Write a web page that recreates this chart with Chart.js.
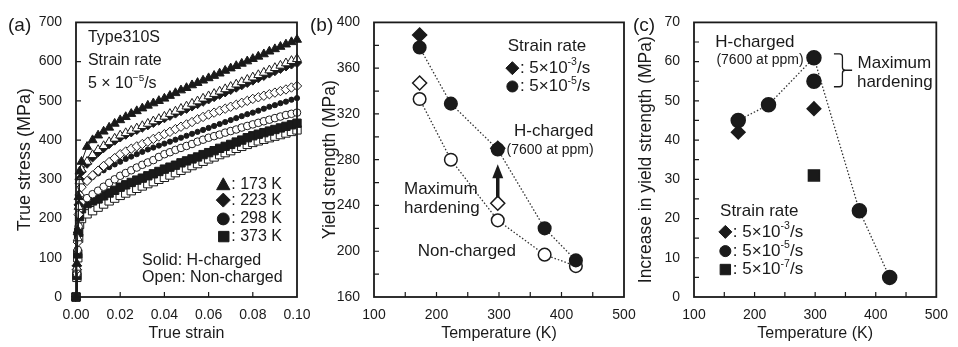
<!DOCTYPE html>
<html>
<head>
  <title>Type310S - hydrogen hardening</title>
  <script src="https://cdn.jsdelivr.net/npm/chart.js"></script>
  <style>
    body {
      margin: 0;
      background-color: #fff;
    }

    .figure {
      position: relative;
      width: 958px;
      height: 347px;
    }

    .figure canvas {
      position: absolute;
      left: 0;
      top: 0;
    }
  </style>
</head>
<body>
  <div class="figure">
    <canvas id="chartA" width="958" height="347"></canvas>
    <canvas id="chartB" width="958" height="347"></canvas>
    <canvas id="chartC" width="958" height="347"></canvas>
  </div>

  <script>
    // (a) true stress - true strain curves, strain rate 5x10^-5/s
    const strain = [0, 0.0004, 0.0008, 0.0012, 0.0016, 0.0025, 0.005, 0.0075, 0.01, 0.0125, 0.015, 0.0175, 0.02,
      0.0225, 0.025, 0.0275, 0.03, 0.0325, 0.035, 0.0375, 0.04, 0.0425, 0.045, 0.0475, 0.05, 0.0525, 0.055, 0.0575,
      0.06, 0.0625, 0.065, 0.0675, 0.07, 0.0725, 0.075, 0.0775, 0.08, 0.0825, 0.085, 0.0875, 0.09, 0.0925, 0.095,
      0.0975, 0.1];
    const stress173H = [0, 85, 170, 255, 320, 345, 383, 400, 412, 422, 432, 442, 451, 459, 467, 474, 481, 488, 494,
      500, 506, 513, 520, 527, 533, 540, 546, 552, 558, 564, 570, 577, 583, 589, 595, 601, 607, 613, 619, 626, 632,
      638, 644, 650, 656];
    const stress173N = [0, 75, 150, 230, 295, 325, 345, 362, 375, 385, 395, 404, 412, 418, 424, 430, 436, 442, 448,
      454, 460, 467, 473, 480, 486, 493, 499, 506, 512, 518, 524, 530, 536, 542, 548, 554, 560, 566, 572, 578, 584,
      590, 596, 602, 607];
    const stress223H = [0, 80, 160, 235, 300, 320, 340, 356, 369, 380, 390, 399, 407, 414, 420, 426, 432, 438, 444,
      450, 456, 462, 468, 474, 480, 486, 492, 498, 504, 510, 516, 522, 528, 534, 540, 546, 552, 558, 564, 570, 576,
      582, 588, 593, 597];
    const stress223N = [0, 70, 140, 210, 260, 280, 296, 310, 322, 334, 344, 354, 364, 371, 378, 384, 390, 396, 403,
      409, 415, 421, 428, 434, 440, 446, 453, 459, 465, 470, 475, 480, 485, 490, 495, 500, 505, 509, 513, 517, 521,
      525, 529, 534, 538];
    const stress298H = [0, 70, 140, 210, 265, 282, 296, 306, 315, 323, 331, 338, 345, 352, 358, 364, 370, 376, 381,
      386, 391, 396, 401, 406, 411, 416, 421, 426, 431, 436, 441, 446, 451, 456, 461, 466, 470, 475, 480, 485, 489,
      494, 498, 503, 507];
    const stress298N = [0, 60, 120, 180, 225, 242, 252, 262, 271, 281, 291, 300, 309, 316, 323, 330, 337, 343, 349,
      357, 364, 369, 375, 380, 385, 390, 396, 401, 406, 410, 414, 419, 423, 427, 432, 436, 440, 444, 448, 452, 456,
      460, 464, 467, 470];
    const stress373H = [0, 55, 110, 165, 205, 225, 238, 245, 250, 258, 265, 272, 280, 286, 292, 298, 303, 309, 314,
      320, 326, 331, 336, 342, 347, 352, 357, 363, 368, 373, 379, 384, 389, 395, 400, 406, 411, 415, 419, 423, 427,
      431, 435, 439, 443];
    const stress373N = [0, 50, 100, 150, 185, 200, 212, 220, 229, 237, 245, 252, 259, 265, 271, 277, 283, 289, 294,
      300, 305, 311, 317, 323, 329, 335, 340, 346, 352, 357, 363, 368, 373, 379, 384, 389, 394, 398, 402, 406, 410,
      414, 418, 422, 426];

    // (b) yield strength vs temperature
    const temps = [173, 223, 298, 373, 423];
    const yieldH5 = [378, 329, 289, 220, 192];
    const yieldN5 = [333, 280, 227, 197, 187];
    const tempsFast = [173, 298];
    const yieldH3 = [389, 290];
    const yieldN3 = [347, 242];

    // (c) increase in yield strength vs temperature
    const incTemps = [173, 223, 298, 373, 423];
    const inc5 = [45, 49, 61, 22, 5];
    const incExtraTemps = [298];
    const inc5Extra = [55];
    const inc3Temps = [173, 298];
    const inc3 = [42, 48];
    const inc7Temps = [298];
    const inc7 = [31];

    const FONT = "'Liberation Sans', Arial, sans-serif";
    const INK = '#1a1a1a';

    Chart.defaults.font.family = FONT;
    Chart.defaults.color = INK;

    function pts(xs, ys) {
      return xs.map((x, i) => ({ x: x, y: ys[i] }));
    }

    function drawMarker(ctx, style, x, y, r, filled) {
      ctx.beginPath();
      if (style === 'triangle') {
        ctx.moveTo(x, y - r);
        ctx.lineTo(x + r * 0.95, y + r * 0.7);
        ctx.lineTo(x - r * 0.95, y + r * 0.7);
        ctx.closePath();
      } else if (style === 'diamond') {
        ctx.moveTo(x, y - r);
        ctx.lineTo(x + r, y);
        ctx.lineTo(x, y + r);
        ctx.lineTo(x - r, y);
        ctx.closePath();
      } else if (style === 'square') {
        ctx.rect(x - r * 0.8, y - r * 0.8, r * 1.6, r * 1.6);
      } else {
        ctx.arc(x, y, r * 0.85, 0, Math.PI * 2);
      }
      ctx.fillStyle = filled ? INK : '#fff';
      ctx.fill();
      ctx.lineWidth = 1;
      ctx.strokeStyle = INK;
      ctx.stroke();
    }

    // text with ^{...} superscripts
    function richParts(text) {
      return text.split(/(\^\{[^}]*\})/).filter(Boolean).map(p =>
        p.startsWith('^{') ? { t: p.slice(2, -1), sup: true } : { t: p, sup: false });
    }

    function richWidth(ctx, parts, size) {
      let w = 0;
      parts.forEach(p => {
        ctx.font = (p.sup ? size * 0.62 : size) + 'px ' + FONT;
        w += ctx.measureText(p.t).width;
      });
      return w;
    }

    function drawRich(ctx, parts, x, y, size) {
      parts.forEach(p => {
        ctx.font = (p.sup ? size * 0.62 : size) + 'px ' + FONT;
        ctx.fillText(p.t, x, p.sup ? y - size * 0.33 : y);
        x += ctx.measureText(p.t).width;
      });
    }

    const framePlugin = {
      id: 'frame',
      afterDatasetsDraw(chart, args, opts) {
        const ctx = chart.ctx;
        const a = chart.chartArea;
        const xs = chart.scales.x;
        const ys = chart.scales.y;
        ctx.save();
        ctx.strokeStyle = INK;
        ctx.fillStyle = INK;

        // box
        ctx.lineWidth = 1.8;
        ctx.strokeRect(a.left, a.top, a.right - a.left, a.bottom - a.top);

        // inner ticks
        ctx.lineWidth = 1.2;
        ctx.beginPath();
        const nx = Math.round((xs.max - xs.min) / opts.xStep);
        for (let i = 1; i < nx; i++) {
          const px = xs.getPixelForValue(xs.min + i * opts.xStep);
          ctx.moveTo(px, a.bottom);
          ctx.lineTo(px, a.bottom - 5);
        }
        const ny = Math.round((ys.max - ys.min) / opts.yStep);
        for (let i = 1; i < ny; i++) {
          const py = ys.getPixelForValue(ys.min + i * opts.yStep);
          ctx.moveTo(a.left, py);
          ctx.lineTo(a.left + 5, py);
        }
        ctx.stroke();

        // panel label
        ctx.textBaseline = 'middle';
        ctx.textAlign = 'left';
        ctx.font = '19px ' + FONT;
        ctx.fillText(opts.label.text, opts.label.left, opts.label.top);

        // notes
        (opts.notes || []).forEach(n => {
          const size = n.size || 16;
          const parts = richParts(n.text);
          const r = n.marker ? (n.r || 6) : 0;
          const lead = n.marker ? 2 * r + 1 : 0;
          const w = lead + richWidth(ctx, parts, size);
          let px = xs.getPixelForValue(n.x);
          const py = ys.getPixelForValue(n.y);
          if (n.align === 'right') px -= w;
          if (n.marker) drawMarker(ctx, n.marker, px + r, py, r, true);
          ctx.fillStyle = INK;
          drawRich(ctx, parts, px + lead, py, size);
        });

        // arrows
        (opts.arrows || []).forEach(ar => {
          const px = xs.getPixelForValue(ar.x);
          const y0 = ys.getPixelForValue(ar.from);
          const y1 = ys.getPixelForValue(ar.to);
          ctx.lineWidth = 3.5;
          ctx.beginPath();
          ctx.moveTo(px, y0);
          ctx.lineTo(px, y1 + 12);
          ctx.stroke();
          ctx.beginPath();
          ctx.moveTo(px, y1);
          ctx.lineTo(px - 5.5, y1 + 14);
          ctx.lineTo(px + 5.5, y1 + 14);
          ctx.closePath();
          ctx.fill();
        });

        // brace
        if (opts.brace) {
          const b = opts.brace;
          const x0 = xs.getPixelForValue(b.x0);
          const x1 = xs.getPixelForValue(b.x1);
          const xt = xs.getPixelForValue(b.tip);
          const yt = ys.getPixelForValue(b.top);
          const yb = ys.getPixelForValue(b.bottom);
          const ym = ys.getPixelForValue(b.mid);
          ctx.lineWidth = 1.3;
          ctx.beginPath();
          ctx.moveTo(x0, yt);
          ctx.lineTo(x1 - 3, yt);
          ctx.quadraticCurveTo(x1, yt, x1, yt + 3);
          ctx.lineTo(x1, ym - 3);
          ctx.quadraticCurveTo(x1, ym, x1 + 3, ym);
          ctx.lineTo(xt, ym);
          ctx.moveTo(x1 + 3, ym);
          ctx.quadraticCurveTo(x1, ym, x1, ym + 3);
          ctx.lineTo(x1, yb - 3);
          ctx.quadraticCurveTo(x1, yb, x1 - 3, yb);
          ctx.lineTo(x0, yb);
          ctx.stroke();
        }
        ctx.restore();
      }
    };

    function axisX(min, max, step, title, fmt) {
      return {
        type: 'linear',
        min: min,
        max: max,
        grid: { display: false, drawTicks: false },
        border: { display: false },
        ticks: {
          stepSize: step,
          padding: 10,
          font: { size: 14 },
          color: INK,
          callback: fmt || (v => v)
        },
        title: { display: true, text: title, color: INK, font: { size: 16 }, padding: { top: 0, bottom: 4 } },
        afterFit: s => { s.height = 50; }
      };
    }

    function axisY(min, max, step, title, width, titleSize) {
      return {
        type: 'linear',
        min: min,
        max: max,
        grid: { display: false, drawTicks: false },
        border: { display: false },
        ticks: { stepSize: step, padding: 14, font: { size: 14 }, color: INK },
        title: { display: true, text: title, color: INK, font: { size: titleSize }, padding: { top: 0, bottom: 0 } },
        afterFit: s => { s.width = width; }
      };
    }

    function baseOptions(padLeft, padRight, scales, frame) {
      return {
        responsive: false,
        animation: false,
        layout: { padding: { left: padLeft, right: padRight, top: 16, bottom: 0 } },
        scales: scales,
        plugins: { legend: { display: false }, tooltip: { enabled: false }, frame: frame }
      };
    }

    function curve(values, style, filled, r) {
      return {
        data: pts(strain, values),
        pointStyle: style,
        pointRadius: r,
        pointBackgroundColor: filled ? INK : '#fff',
        pointBorderColor: INK,
        pointBorderWidth: 1,
        borderColor: INK,
        borderWidth: 1,
        showLine: true,
        clip: false
      };
    }

    function marks(xs, ys, style, filled, r, dotted) {
      return {
        data: pts(xs, ys),
        pointStyle: style,
        pointRadius: r,
        pointBackgroundColor: filled ? INK : '#fff',
        pointBorderColor: INK,
        pointBorderWidth: 1.5,
        borderColor: '#333',
        borderWidth: 1.3,
        borderDash: [1.5, 2],
        showLine: !!dotted,
        clip: false
      };
    }

    // (a)
    new Chart(document.getElementById('chartA'), {
      type: 'scatter',
      data: {
        datasets: [
          curve(stress173H, 'triangle', true, 5.2),
          curve(stress173N, 'triangle', false, 5.2),
          curve(stress223H, 'rectRot', true, 4.7),
          curve(stress223N, 'rectRot', false, 4.7),
          curve(stress298H, 'circle', true, 2.6),
          curve(stress298N, 'circle', false, 3.8),
          curve(stress373H, 'rect', true, 5.9),
          curve(stress373N, 'rect', false, 5.9)
        ]
      },
      options: baseOptions(14, 661, {
        x: axisX(0, 0.1, 0.02, 'True strain', v => v.toFixed(2)),
        y: axisY(0, 700, 100, 'True stress (MPa)', 62, 18)
      }, {
        xStep: 0.02,
        yStep: 100,
        label: { text: '(a)', left: 8, top: 26 },
        notes: [
          { x: 0.0054, y: 660, text: 'Type310S' },
          { x: 0.0054, y: 603, text: 'Strain rate' },
          { x: 0.0054, y: 545, text: '5 × 10^{−5}/s' },
          { x: 0.0932, y: 286, text: ': 173 K', marker: 'triangle', r: 7, align: 'right' },
          { x: 0.0932, y: 247, text: ': 223 K', marker: 'diamond', r: 7, align: 'right' },
          { x: 0.0932, y: 199, text: ': 298 K', marker: 'circle', r: 7, align: 'right' },
          { x: 0.0932, y: 154, text: ': 373 K', marker: 'square', r: 6.5, align: 'right' },
          { x: 0.0299, y: 92, text: 'Solid: H-charged' },
          { x: 0.0299, y: 50, text: 'Open: Non-charged' }
        ]
      }),
      plugins: [framePlugin]
    });

    // (b)
    new Chart(document.getElementById('chartB'), {
      type: 'scatter',
      data: {
        datasets: [
          marks(tempsFast, yieldH3, 'rectRot', true, 7),
          marks(tempsFast, yieldN3, 'rectRot', false, 7),
          marks(temps, yieldH5, 'circle', true, 6.3, true),
          marks(temps, yieldN5, 'circle', false, 6.3, true)
        ]
      },
      options: baseOptions(320, 334, {
        x: axisX(100, 500, 100, 'Temperature (K)'),
        y: axisY(160, 400, 40, 'Yield strength (MPa)', 54, 17.5)
      }, {
        xStep: 50,
        yStep: 20,
        label: { text: '(b)', left: 310, top: 26 },
        notes: [
          { x: 314, y: 379, text: 'Strain rate', size: 17 },
          { x: 311, y: 360, text: ': 5×10^{-3}/s', size: 17, marker: 'diamond', r: 6.5 },
          { x: 311, y: 344, text: ': 5×10^{-5}/s', size: 17, marker: 'circle', r: 6.5 },
          { x: 324, y: 305, text: 'H-charged', size: 17 },
          { x: 312, y: 288.5, text: '(7600 at ppm)', size: 14 },
          { x: 148, y: 254.5, text: 'Maximum', size: 17 },
          { x: 148, y: 237.5, text: 'hardening', size: 17 },
          { x: 170, y: 200, text: 'Non-charged', size: 17 }
        ],
        arrows: [{ x: 298, from: 247, to: 276 }]
      }),
      plugins: [framePlugin]
    });

    // (c)
    new Chart(document.getElementById('chartC'), {
      type: 'scatter',
      data: {
        datasets: [
          marks(inc3Temps, inc3, 'rectRot', true, 6.8),
          marks(inc7Temps, inc7, 'rect', true, 7.8),
          marks(incExtraTemps, inc5Extra, 'circle', true, 7),
          marks(incTemps, inc5, 'circle', true, 7, true)
        ]
      },
      options: baseOptions(636, 13, {
        x: axisX(100, 500, 100, 'Temperature (K)'),
        y: axisY(0, 70, 10, 'Increase in yield strength (MPa)', 58, 17.5)
      }, {
        xStep: 50,
        yStep: 5,
        label: { text: '(c)', left: 633, top: 26 },
        notes: [
          { x: 135, y: 64.8, text: 'H-charged', size: 17 },
          { x: 137, y: 60.3, text: '(7600 at ppm)', size: 14 },
          { x: 370, y: 59.6, text: 'Maximum', size: 17 },
          { x: 369, y: 54.6, text: 'hardening', size: 17 },
          { x: 143, y: 21.8, text: 'Strain rate', size: 17 },
          { x: 141, y: 16.6, text: ': 5×10^{-3}/s', size: 17, marker: 'diamond', r: 6.5 },
          { x: 141, y: 11.7, text: ': 5×10^{-5}/s', size: 17, marker: 'circle', r: 6.5 },
          { x: 141, y: 7.0, text: ': 5×10^{-7}/s', size: 17, marker: 'square', r: 6.5 }
        ],
        brace: { x0: 331, x1: 345, tip: 361, top: 62, bottom: 53.6, mid: 57.8 }
      }),
      plugins: [framePlugin]
    });
  </script>
</body>
</html>
